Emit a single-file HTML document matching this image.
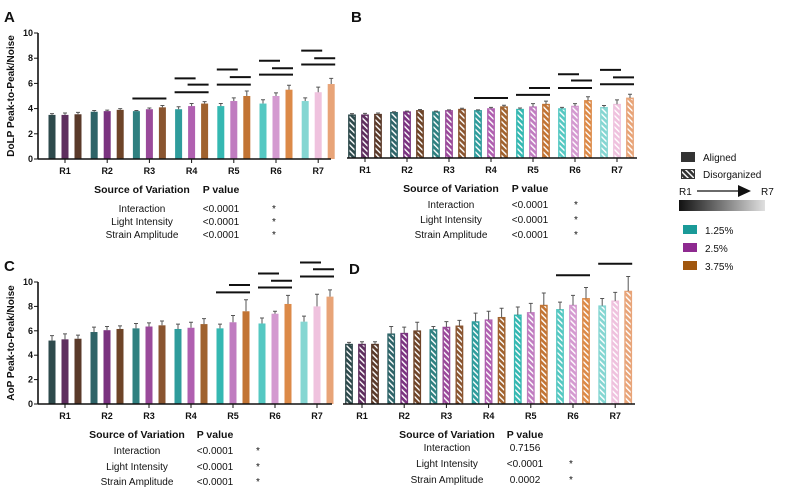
<!DOCTYPE html>
<html><head><meta charset="utf-8">
<style>
body{margin:0;background:#fff;}
svg{display:block;font-family:"Liberation Sans",Arial,sans-serif;}
</style></head>
<body>
<svg id="fig" width="790" height="502" viewBox="0 0 790 502">
<defs>
<pattern id="hatch" patternUnits="userSpaceOnUse" width="4" height="4" patternTransform="rotate(-45)">
<rect x="0" y="0" width="1.4" height="4" fill="#fff"/>
</pattern>
</defs>
</svg>
<script>
const categories=["R1","R2","R3","R4","R5","R6","R7"];
// Panel A (DoLP aligned)
const aLow=[3.5,3.75,3.8,3.95,4.2,4.4,4.6];
const aMid=[3.5,3.8,3.95,4.2,4.6,5.0,5.3];
const aHigh=[3.55,3.9,4.1,4.4,5.0,5.5,5.95];
const aErrLow=[0.1,0.1,0.05,0.2,0.2,0.3,0.25];
const aErrMid=[0.15,0.08,0.1,0.2,0.25,0.25,0.4];
const aErrHigh=[0.15,0.1,0.15,0.15,0.4,0.35,0.45];
const aSig=[[2,0,2,4.8],[3,0,1,6.4],[3,1,2,5.9],[3,0,2,5.3],[4,0,1,7.1],[4,1,2,6.5],[4,0,2,5.9],[5,0,1,7.8],[5,1,2,7.2],[5,0,2,6.7],[6,0,1,8.6],[6,1,2,8.0],[6,0,2,7.5]];
// Panel B (DoLP disorganized)
const bLow=[3.45,3.65,3.7,3.8,3.9,3.95,4.05];
const bMid=[3.45,3.7,3.8,3.95,4.1,4.15,4.3];
const bHigh=[3.5,3.8,3.9,4.1,4.3,4.6,4.8];
const bErrLow=[0.1,0.05,0.05,0.05,0.1,0.1,0.15];
const bErrMid=[0.12,0.05,0.05,0.1,0.25,0.2,0.35];
const bErrHigh=[0.1,0.08,0.08,0.12,0.25,0.3,0.3];
const bSig=[[3,0,2,4.8],[4,1,2,5.6],[4,0,2,5.05],[5,0,1,6.7],[5,1,2,6.2],[5,0,2,5.6],[6,0,1,7.05],[6,1,2,6.45],[6,0,2,5.9]];
// Panel C (AoP aligned)
const cLow=[5.2,5.9,6.2,6.15,6.2,6.6,6.75];
const cMid=[5.3,6.05,6.35,6.25,6.7,7.4,8.0];
const cHigh=[5.35,6.15,6.45,6.55,7.6,8.2,8.8];
const cErrLow=[0.4,0.4,0.4,0.4,0.35,0.45,0.45];
const cErrMid=[0.45,0.3,0.3,0.45,0.55,0.2,1.0];
const cErrHigh=[0.3,0.25,0.35,0.45,0.95,0.7,0.55];
const cSig=[[4,1,2,9.75],[4,0,2,9.15],[5,0,1,10.7],[5,1,2,10.1],[5,0,2,9.55],[6,0,1,11.6],[6,1,2,11.05],[6,0,2,10.45]];
// Panel D (AoP disorganized)
const dLow=[4.9,5.75,6.1,6.75,7.3,7.75,8.05];
const dMid=[4.9,5.8,6.3,6.9,7.5,8.1,8.45];
const dHigh=[4.9,6.0,6.4,7.1,8.1,8.65,9.25];
const dErrLow=[0.15,0.6,0.25,0.7,0.65,0.6,0.6];
const dErrMid=[0.2,0.5,0.45,0.7,0.75,0.8,0.7];
const dErrHigh=[0.2,0.7,0.45,0.75,1.0,0.9,1.2];
const dSig=[[5,0,2,10.55],[6,0,2,11.5]];
const yTicks=[0,2,4,6,8,10];

const tealC=["#2e4a4c","#2e6468","#2f8080","#2f9c9c","#35b8b2","#55c8c2","#85d6d2"];
const purpC=["#5e2e5e","#7a3380","#9a4a9a","#b060b0","#c07cc0","#d49ad0","#efc2de"];
const brownC=["#5a3a2a","#6e4428","#8a5530","#a0622e","#c27434","#dc8a48","#e8a478"];

const NS="http://www.w3.org/2000/svg";
const svg=document.getElementById('fig');
function mk(tag,attrs,parent){const e=document.createElementNS(NS,tag);for(const k in attrs)e.setAttribute(k,attrs[k]);(parent||svg).appendChild(e);return e;}
function txt(s,x,y,size,weight,anchor,parent){const t=mk('text',{x:x,y:y,'font-size':size,'font-weight':weight||'normal','text-anchor':anchor||'middle',fill:'#111'},parent);t.textContent=s;return t;}

function panel(cfg){
  const g=mk('g',{});
  
  
  const yS=v=>cfg.y0-(v/10)*(cfg.y0-cfg.y10);
  const xS=i=>cfg.c0+i*cfg.step;
  const series=[cfg.low,cfg.mid,cfg.high];
  const errs=[cfg.eLow,cfg.eMid,cfg.eHigh];
  const cols=[tealC,purpC,brownC];
  const names=['1.25','2.5','3.75'];
  for(let i=0;i<categories.length;i++){
    for(let s=0;s<3;s++){
      const cx=xS(i)+(s-1)*13, w=7, top=yS(series[s][i]);
      const b=mk('rect',{x:cx-w/2,y:top,width:w,height:cfg.y0-top,fill:cols[s][i],stroke:cfg.hatch?cols[s][i]:'none','stroke-width':0.8},g);
      
      
      if(cfg.hatch){const h=mk('rect',{x:cx-w/2+1,y:top+1,width:w-2,height:cfg.y0-top-1,fill:'url(#hatch)'},g);
        
        }
      const et=yS(series[s][i]+errs[s][i]);
      const e=mk('path',{d:`M${cx} ${top}V${et}M${cx-2} ${et}H${cx+2}`,stroke:'#555','stroke-width':1,fill:'none'},g);
      
      
    }
  }
  cfg.sig.forEach(sg=>{
    const x1=xS(sg[0])+(sg[1]-1)*13-4, x2=xS(sg[0])+(sg[2]-1)*13+4, y=yS(sg[3]);
    const l=mk('line',{x1:x1,x2:x2,y1:y,y2:y,stroke:'#111','stroke-width':2},g);
    
    
  });
  const ax=mk('line',{x1:cfg.ax0,x2:cfg.ax1,y1:cfg.y0,y2:cfg.y0,stroke:'#111','stroke-width':1.6},g);
  
  
  categories.forEach((c,i)=>{
    mk('line',{x1:xS(i),x2:xS(i),y1:cfg.y0,y2:cfg.y0+4,stroke:'#111','stroke-width':1},g);
    const t=txt(c,xS(i),cfg.y0+15,9,'bold','middle',g);
    
    
  });
  if(cfg.yaxis){
    const ya=mk('line',{x1:cfg.ax0,x2:cfg.ax0,y1:cfg.y10,y2:cfg.y0,stroke:'#111','stroke-width':1.6},g);
    
    
    yTicks.forEach(v=>{
      mk('line',{x1:cfg.ax0-4,x2:cfg.ax0,y1:yS(v),y2:yS(v),stroke:'#111','stroke-width':1},g);
      const t=txt(String(v),cfg.ax0-5,yS(v)+3,9,'bold','end',g);
      
      
    });
    const my=(cfg.y0+cfg.y10)/2;
    const tt=txt(cfg.ytitle,0,0,10,'bold','middle',g);
    tt.setAttribute('transform',`translate(14,${my}) rotate(-90)`);
    
    
  }
  const L=mk('text',{x:cfg.lx,y:cfg.ly,'font-size':15,'font-weight':'bold',fill:'#111'},g);
  L.textContent=cfg.letter;
  
  
  const T=cfg.table, tg=mk('g',{},g);
  
  
  txt('Source of Variation',T.hx,T.hy,10.5,'bold','middle',tg);
  txt('P value',T.px,T.hy,10.5,'bold','middle',tg);
  const rows=['Interaction','Light Intensity','Strain Amplitude'];
  rows.forEach((r,k)=>{
    txt(r,T.hx,T.ry[k],10,'normal','middle',tg);
    txt(T.p[k],T.px,T.ry[k],10,'normal','middle',tg);
    if(T.star[k])txt('*',T.sx,T.ry[k],10,'normal','middle',tg);
  });
}

panel({name:'panel-a-dolp-aligned',letter:'A',lx:4,ly:22,y0:159,y10:33,c0:65,step:42.2,ax0:38,ax1:331,hatch:false,yaxis:true,ytitle:'DoLP Peak-to-Peak/Noise',
  low:aLow,mid:aMid,high:aHigh,eLow:aErrLow,eMid:aErrMid,eHigh:aErrHigh,sig:aSig,
  table:{hx:142,hy:193,px:221,sx:274,ry:[212,225,238],p:['<0.0001','<0.0001','<0.0001'],star:[1,1,1]}});
panel({name:'panel-b-dolp-disorganized',letter:'B',lx:351,ly:22,y0:158,y10:33,c0:365,step:42,ax0:347,ax1:637,hatch:true,yaxis:false,
  low:bLow,mid:bMid,high:bHigh,eLow:bErrLow,eMid:bErrMid,eHigh:bErrHigh,sig:bSig,
  table:{hx:451,hy:192,px:530,sx:576,ry:[208,223,238],p:['<0.0001','<0.0001','<0.0001'],star:[1,1,1]}});
panel({name:'panel-c-aop-aligned',letter:'C',lx:4,ly:271,y0:404,y10:282,c0:65,step:42,ax0:38,ax1:332,hatch:false,yaxis:true,ytitle:'AoP Peak-to-Peak/Noise',
  low:cLow,mid:cMid,high:cHigh,eLow:cErrLow,eMid:cErrMid,eHigh:cErrHigh,sig:cSig,
  table:{hx:137,hy:438,px:215,sx:258,ry:[454,470,485],p:['<0.0001','<0.0001','<0.0001'],star:[1,1,1]}});
panel({name:'panel-d-aop-disorganized',letter:'D',lx:349,ly:274,y0:404,y10:282,c0:362,step:42.2,ax0:343,ax1:635,hatch:true,yaxis:false,
  low:dLow,mid:dMid,high:dHigh,eLow:dErrLow,eMid:dErrMid,eHigh:dErrHigh,sig:dSig,
  table:{hx:447,hy:438,px:525,sx:571,ry:[451,467,483],p:['0.7156','<0.0001','0.0002'],star:[0,1,1]}});

const lg=mk('g',{});


mk('rect',{x:681,y:152,width:14,height:10,fill:'#333'},lg);
txt('Aligned',703,161,10,'normal','start',lg);
mk('rect',{x:681,y:169,width:14,height:10,fill:'#333'},lg);
mk('rect',{x:682,y:170,width:12,height:8,fill:'url(#hatch)'},lg);
txt('Disorganized',703,178,10,'normal','start',lg);
txt('R1',679,195,10,'normal','start',lg);
mk('line',{x1:697,x2:740,y1:191,y2:191,stroke:'#111','stroke-width':1.2},lg);
mk('path',{d:'M738 185L751 191L738 197Z',fill:'#111'},lg);
txt('R7',761,195,10,'normal','start',lg);
const gd=mk('linearGradient',{id:'rgrad',x1:0,x2:1,y1:0,y2:0},svg.querySelector('defs'));
mk('stop',{offset:0,'stop-color':'#111'},gd);mk('stop',{offset:1,'stop-color':'#e0e0e0'},gd);
const gb=mk('rect',{x:679,y:200,width:86,height:11,fill:'url(#rgrad)'},lg);


[['#1a9a98','1.25%',225],['#8e2a90','2.5%',243],['#a0560e','3.75%',261]].forEach(d=>{
  mk('rect',{x:683,y:d[2],width:14,height:9,fill:d[0]},lg);
  txt(d[1],705,d[2]+9,10,'normal','start',lg);
});
</script>
</body></html>
